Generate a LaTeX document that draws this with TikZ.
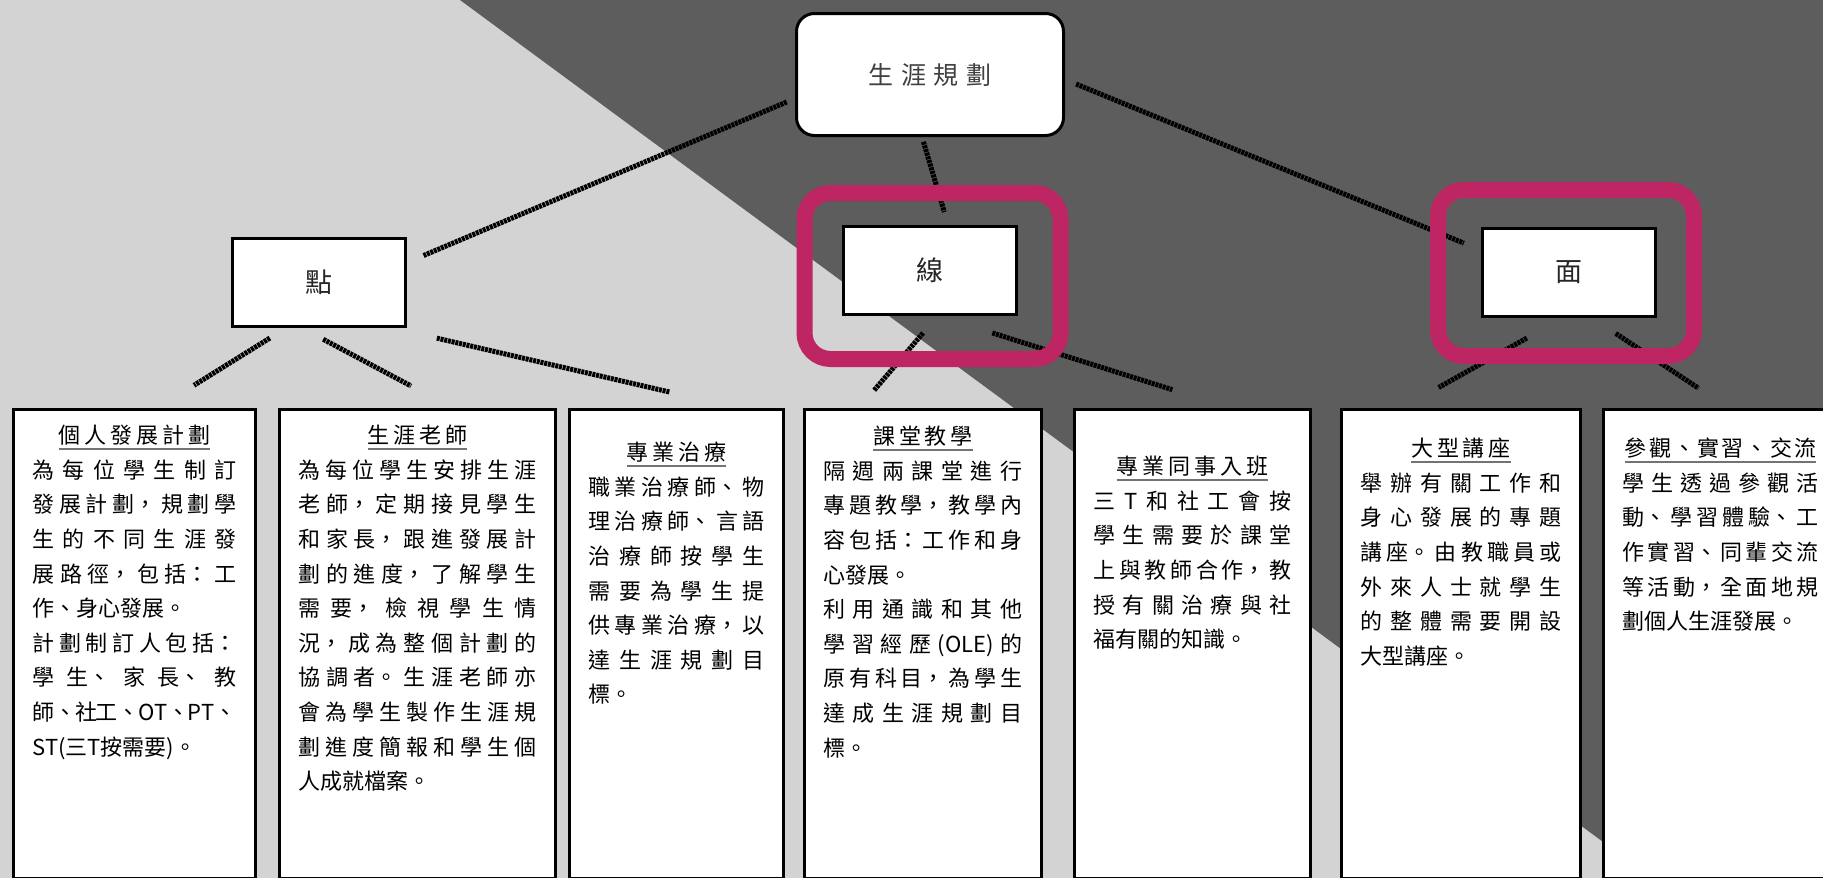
\documentclass[tikz,border=0pt]{standalone}
\usepackage{fontspec}
\setmainfont{Noto Sans CJK TC}
\newfontfamily\titlefont[LetterSpace=18]{Noto Sans CJK TC}
\newfontfamily\bigfont[LetterSpace=30]{Noto Sans CJK TC}
\usetikzlibrary{positioning}
\XeTeXlinebreaklocale "zh"
\XeTeXlinebreakskip=0pt plus 10pt minus 2pt
\definecolor{bglight}{RGB}{211,211,211}
\definecolor{bgdark}{RGB}{93,93,93}
\definecolor{hlpink}{RGB}{189,38,98}
\newcommand{\titleline}[1]{\leavevmode\vtop{\hbox{#1}\kern2.5pt{\color{black!55}\hrule height 1.8pt}}}
\newcommand{\leafhead}[2]{\par\vspace*{#1}{\centering\titleline{\titlefont #2}\par}}

\begin{document}
\begin{tikzpicture}[x=1pt,y=-1pt,
  topbox/.style={draw,line width=3pt,fill=white,rounded corners=18pt,minimum width=267pt,minimum height=122pt,text=black!75,font=\fontsize{25}{25}\selectfont\bigfont},
  midbox/.style={draw,line width=3pt,fill=white,minimum width=173pt,minimum height=88pt,text=black!85,font=\fontsize{27}{27}\selectfont},
  leaf/.style={draw,line width=3pt,fill=white,inner xsep=19pt,inner ysep=0pt,text depth=469pt,align=justify,font=\fontsize{22}{34.6}\selectfont},
  hilite/.style={draw=hlpink,line width=16pt,rounded corners=26pt,minimum width=256pt,minimum height=166pt},
  conn/.style={line width=5pt,dash pattern=on 3pt off 0.8pt}]
  \useasboundingbox (0,0) rectangle (1823,878);
  \clip (0,0) rectangle (1823,878);
  % background
  \fill[bglight] (0,0) rectangle (1823,878);
  \fill[bgdark] (460,0) -- (1823,0) -- (1823,878) -- (1652,878) -- cycle;

  \node[topbox] (plan) at (930,74.5) {生涯規劃};
  \node[midbox,on grid,below left=208pt and 611pt of plan] (dot) {點};
  \node[midbox,on grid,below=195.5pt of plan] (line) {線};
  \node[midbox,on grid,below right=197.5pt and 638.5pt of plan] (plane) {面};

  \node[leaf,text width=204pt,anchor=north west] (b_1) at (12,408)
    {\leafhead{-0.5pt}{個人發展計劃}%
     為每位學生制訂\linebreak
     發展計劃，規劃學\linebreak
     生的不同生涯發\linebreak
     展路徑，包括：工\linebreak
     作、身心發展。\par
     計劃制訂人包括：\linebreak
     學生、家長、教\linebreak
     師、社工、OT、PT、\linebreak
     ST(三T按需要)。};
  \node[leaf,text width=238pt,right=21pt of b_1] (b_2)
    {\leafhead{-0.5pt}{生涯老師}%
     為每位學生安排生涯\linebreak
     老師，定期接見學生\linebreak
     和家長，跟進發展計\linebreak
     劃的進度，了解學生\linebreak
     需要，檢視學生情\linebreak
     況，成為整個計劃的\linebreak
     協調者。生涯老師亦\linebreak
     會為學生製作生涯規\linebreak
     劃進度簡報和學生個\linebreak
     人成就檔案。};
  \node[leaf,text width=176pt,right=11pt of b_2] (b_3)
    {\leafhead{16.5pt}{專業治療}%
     職業治療師、物\linebreak
     理治療師、言語\linebreak
     治療師按學生\linebreak
     需要為學生提\linebreak
     供專業治療，以\linebreak
     達生涯規劃目\linebreak
     標。};
  \node[leaf,text width=199pt,right=18pt of b_3] (b_4)
    {\leafhead{0.5pt}{課堂教學}%
     隔週兩課堂進行\linebreak
     專題教學，教學內\linebreak
     容包括：工作和身\linebreak
     心發展。\par
     利用通識和其他\linebreak
     學習經歷(OLE)的\linebreak
     原有科目，為學生\linebreak
     達成生涯規劃目\linebreak
     標。};
  \node[leaf,text width=198pt,right=30pt of b_4] (b_5)
    {\leafhead{30.5pt}{專業同事入班}%
     三T和社工會按\linebreak
     學生需要於課堂\linebreak
     上與教師合作，教\linebreak
     授有關治療與社\linebreak
     福有關的知識。};
  \node[leaf,text width=201pt,right=28pt of b_5] (b_6)
    {\leafhead{12.5pt}{大型講座}%
     舉辦有關工作和\linebreak
     身心發展的專題\linebreak
     講座。由教職員或\linebreak
     外來人士就學生\linebreak
     的整體需要開設\linebreak
     大型講座。};
  \node[leaf,text width=196pt,right=20pt of b_6] (b_7)
    {\leafhead{12.5pt}{\addfontfeatures{LetterSpace=10}參觀、實習、交流}%
     學生透過參觀活\linebreak
     動、學習體驗、工\linebreak
     作實習、同輩交流\linebreak
     等活動，全面地規\linebreak
     劃個人生涯發展。};

  \path[conn]
  ([yshift=-24pt]plan.west) edge[shorten <=9pt,shorten >=18pt] ([yshift=20pt]dot.east)
  ([xshift=-8pt]plan.south) edge[shorten <=5pt,shorten >=13pt] ([xshift=18pt]line.north)
  ([yshift=-5pt]plan.east) edge[shorten <=12pt,shorten >=18pt] ([yshift=22pt]plane.west)
  ([xshift=-33pt]dot.south) edge[shorten <=19pt,shorten >=43pt] ([xshift=23pt]b_1.north)
  ([xshift=-17pt]dot.south) edge[shorten <=24pt,shorten >=47pt] ([xshift=35pt]b_2.north)
  ([xshift=74pt]dot.south) edge[shorten <=45pt,shorten >=71pt] ([xshift=62pt]b_3.north)
  ([xshift=8pt]line.south) edge[shorten <=23pt,shorten >=23pt] ([xshift=-64pt]b_4.north)
  ([xshift=7pt]line.south) edge[shorten <=58pt,shorten >=61pt] ([xshift=38pt]b_5.north)
  ([xshift=-5pt]plane.south) edge[shorten <=42pt,shorten >=42pt] ([xshift=-59pt]b_6.north)
  ([xshift=23pt]plane.south) edge[shorten <=29pt,shorten >=36pt] ([xshift=8pt]b_7.north)
  ; %end path

  \node[hilite] (f_ln) at ([shift={(2.5pt,-6pt)}]line.center) {};
  \node[hilite] (f_pl) at ([shift={(-2.5pt,-1pt)}]plane.center) {};
\end{tikzpicture}
\end{document}
